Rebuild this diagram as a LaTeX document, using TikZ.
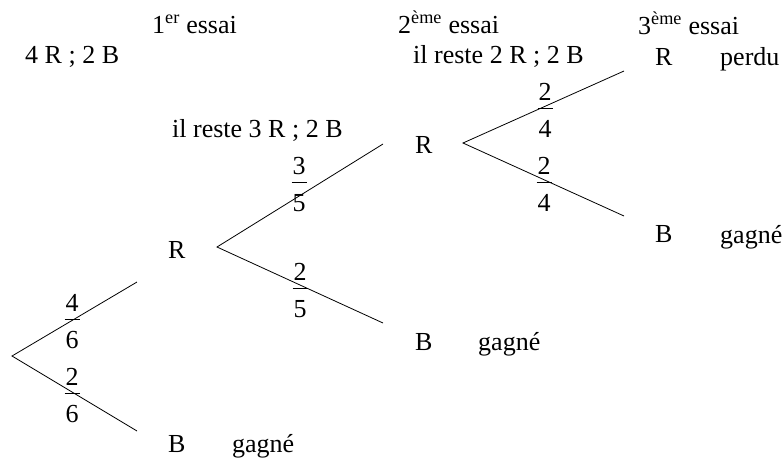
\documentclass[tikz,border=0pt]{standalone}
\usepackage{fontspec}
\setmainfont{Liberation Serif}
\newfontfamily\tnrfont{Liberation Serif}
\begin{document}
\begin{tikzpicture}[x=1pt,y=-1pt,
  lbl/.style={font=\tnrfont\fontsize{26}{31}\selectfont, inner sep=0pt, anchor=base west},
  num/.style={font=\tnrfont\fontsize{26}{31}\selectfont, inner sep=0pt, anchor=base},
  branch/.style={line width=0.8pt, black},
  fbar/.style={line width=0.8pt, black}]
\useasboundingbox (0,0) rectangle (783,459);
\newcommand\fracnode[5]{%
  \coordinate (#1) at (#2,#3);
  \node[num] (#1n) at ([yshift=8pt]#1) {#4};
  \node[num] (#1d) at ([yshift=-29pt]#1) {#5};
  \draw[fbar] ([xshift=-7.5pt]#1) -- ([xshift=7.5pt]#1);
}
% headings
\node[lbl] (h1) at (152,33) {1\textsuperscript{er} essai};
\node[lbl] (h2) at (398,33) {2\textsuperscript{ème} essai};
\node[lbl] (h3) at (638,34) {3\textsuperscript{ème} essai};
\node[lbl] (s0) at (25,63) {4 R ; 2 B};
\node[lbl] (s1) at (172,137) {il reste 3 R ; 2 B};
\node[lbl] (s2) at (413,63) {il reste 2 R ; 2 B};
% outcomes
\node[lbl] (R1) at (168,258) {R};
\node[lbl] (B1) at (168,452) {B};
\node[lbl] (g1) at (232,452) {gagné};
\node[lbl] (R2) at (415,153) {R};
\node[lbl] (B2) at (415,350) {B};
\node[lbl] (g2) at (478,350) {gagné};
\node[lbl] (R3) at (655,65) {R};
\node[lbl] (p3) at (720,65) {perdu};
\node[lbl] (B3) at (655,242) {B};
\node[lbl] (g3) at (720,243) {gagné};
% branch points
\coordinate (root) at (12,356);
\coordinate (e1u) at (137,282);
\coordinate (e1d) at (137,431);
\coordinate (r1) at (217,247);
\coordinate (e2u) at (383,144);
\coordinate (e2d) at (383,323);
\coordinate (r2) at (463,143);
\coordinate (e3u) at (624,71);
\coordinate (e3d) at (624,216);
\draw[branch] (e1u) -- (root) -- (e1d);
\draw[branch] (e2u) -- (r1) -- (e2d);
\draw[branch] (e3u) -- (r2) -- (e3d);
% fractions
\fracnode{f46}{72}{319}{4}{6}
\fracnode{f26}{72}{393}{2}{6}
\fracnode{f35}{299}{182}{3}{5}
\fracnode{f25}{300}{288}{2}{5}
\fracnode{f24a}{545}{108}{2}{4}
\fracnode{f24b}{544}{182}{2}{4}
\end{tikzpicture}
\end{document}
